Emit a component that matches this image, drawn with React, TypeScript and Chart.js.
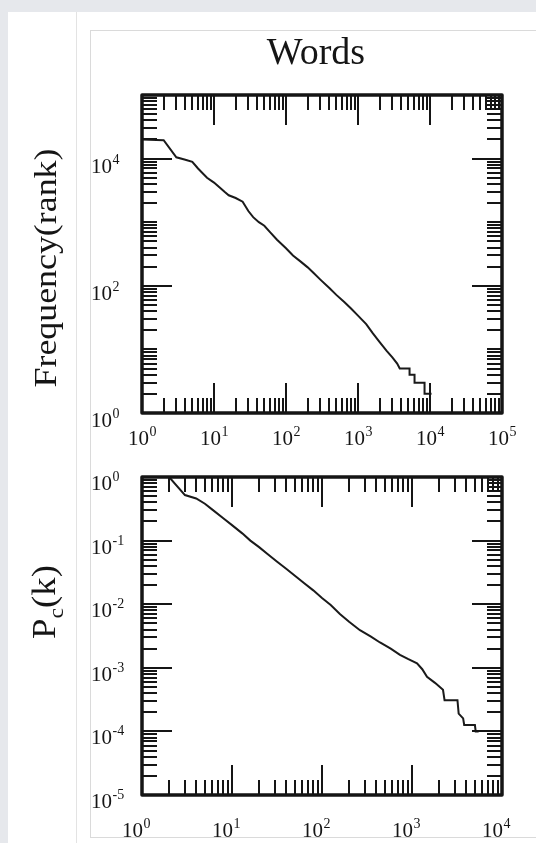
import React, { useEffect, useRef } from "react";
import { Chart, registerables } from "chart.js";

Chart.register(...registerables);

// Rank / frequency of words (Zipf plot)
const wordRanks = [
  1, 2, 3, 4, 5, 6, 8, 10, 12, 14, 16, 20, 25, 30, 35, 42, 50, 60, 75, 100, 125, 160, 200, 240, 300,
  400, 500, 650, 800, 1000, 1300, 1600, 2000, 2500, 3000, 3500, 3800, 5200, 5200, 6100, 6100, 8400,
  8400, 10500,
];
const wordFrequencies = [
  20000, 19500, 10500, 9600, 8900, 7000, 5000, 4200, 3500, 3000, 2650, 2400, 2100, 1500, 1200, 1000,
  880, 700, 530, 390, 300, 240, 195, 160, 125, 92, 72, 55, 44, 34, 25, 18, 13, 9.5, 7.5, 6, 5, 5, 4,
  4, 3, 3, 2, 2,
];

// Cumulative degree distribution of the word network
const wordDegrees = [
  2, 3, 4, 5, 6, 8, 10, 13, 16, 20, 25, 32, 40, 50, 63, 80, 100, 125, 158, 200, 264, 350, 441, 580,
  735, 900, 1137, 1300, 1468, 1800, 2210, 2300, 3200, 3300, 3700, 3800, 5000, 5100, 5500,
];
const cumulativeProbabilities = [
  1.0, 0.52, 0.46, 0.38, 0.31, 0.225, 0.175, 0.13, 0.1, 0.079, 0.061, 0.046, 0.036, 0.028, 0.0215,
  0.0165, 0.0125, 0.0097, 0.007, 0.0053, 0.0039, 0.0031, 0.0025, 0.002, 0.0016, 0.00138, 0.00118,
  0.00095, 0.00072, 0.00058, 0.00045, 0.00031, 0.00031, 0.00019, 0.00016, 0.000126, 0.000126,
  0.0001, 0.0001,
];

// Axis decades (exponents of ten)
const rankDecades = [0, 1, 2, 3, 4, 5];
const rankMajorDecades = [0, 1, 2, 3, 4, 5];
const rankLabelDecades = [0, 1, 2, 3, 4, 5];
const frequencyDecades = [0, 1, 2, 3, 4, 5];
const frequencyMajorDecades = [0, 2, 4];
const frequencyLabelDecades = [0, 2, 4];
const degreeDecades = [0, 1, 2, 3, 4];
const degreeMajorDecades = [0, 1, 2, 3, 4];
const degreeLabelDecades = [0, 1, 2, 3, 4];
const probabilityDecades = [-5, -4, -3, -2, -1, 0];
const probabilityMajorDecades = [-5, -4, -3, -2, -1, 0];
const probabilityLabelDecades = [-5, -4, -3, -2, -1, 0];

const SERIF = "'Liberation Serif', 'DejaVu Serif', serif";
const INK = "#151515";

type FrameOpts = {
  xDecades: number[];
  xMajor: number[];
  xLabels: number[];
  yDecades: number[];
  yMajor: number[];
  yLabels: number[];
  xLabelBaseline: number;
  xLabelShift: number;
  yLabelLeft: number;
  yLabelDrop: number;
  decorate?: (ctx: CanvasRenderingContext2D) => void;
};

function drawPower(ctx: CanvasRenderingContext2D, exp: number, x: number, baseline: number, centered: boolean) {
  const base = "10";
  const sup = exp < 0 ? "-" + String(-exp) : String(exp);
  ctx.font = `21px ${SERIF}`;
  const wb = ctx.measureText(base).width;
  ctx.font = `14px ${SERIF}`;
  const ws = ctx.measureText(sup).width;
  const left = centered ? x - (wb + ws) / 2 : x;
  ctx.textAlign = "left";
  ctx.textBaseline = "alphabetic";
  ctx.font = `21px ${SERIF}`;
  ctx.fillText(base, left, baseline);
  ctx.font = `14px ${SERIF}`;
  ctx.fillText(sup, left + wb + 0.5, baseline - 9);
}

const frameAxesPlugin = {
  id: "frameAxes",
  afterDatasetsDraw(chart: any, _args: any, opts: FrameOpts) {
    const { ctx, chartArea: a, scales } = chart;
    const xs = scales.x;
    const ys = scales.y;
    ctx.save();
    ctx.strokeStyle = INK;
    ctx.fillStyle = INK;

    // inward ticks on all four sides
    ctx.lineWidth = 2;
    ctx.beginPath();
    for (const d of opts.xDecades) {
      for (let m = 1; m <= 9; m++) {
        const v = m * Math.pow(10, d);
        if (v < xs.min * 0.999 || v > xs.max * 1.001) continue;
        const len = m === 1 && opts.xMajor.includes(d) ? 30 : 15;
        const p = Math.round(xs.getPixelForValue(v));
        ctx.moveTo(p, a.bottom);
        ctx.lineTo(p, a.bottom - len);
        ctx.moveTo(p, a.top);
        ctx.lineTo(p, a.top + len);
      }
    }
    for (const d of opts.yDecades) {
      for (let m = 1; m <= 9; m++) {
        const v = m * Math.pow(10, d);
        if (v < ys.min * 0.999 || v > ys.max * 1.001) continue;
        const len = m === 1 && opts.yMajor.includes(d) ? 30 : 15;
        const p = Math.round(ys.getPixelForValue(v));
        ctx.moveTo(a.left, p);
        ctx.lineTo(a.left + len, p);
        ctx.moveTo(a.right, p);
        ctx.lineTo(a.right - len, p);
      }
    }
    ctx.stroke();

    // frame
    ctx.lineWidth = 3.5;
    ctx.lineJoin = "round";
    ctx.strokeRect(a.left, a.top, a.right - a.left, a.bottom - a.top);

    // tick labels
    for (const d of opts.xLabels) {
      const p = xs.getPixelForValue(Math.pow(10, d));
      drawPower(ctx, d, p + opts.xLabelShift, opts.xLabelBaseline, true);
    }
    for (const d of opts.yLabels) {
      const p = ys.getPixelForValue(Math.pow(10, d));
      drawPower(ctx, d, opts.yLabelLeft, p + opts.yLabelDrop, false);
    }

    if (opts.decorate) opts.decorate(ctx);
    ctx.restore();
  },
};

function makeConfig(
  xs: number[],
  ys: number[],
  xRange: [number, number],
  yRange: [number, number],
  padding: { left: number; top: number; right: number; bottom: number },
  frame: FrameOpts
): any {
  return {
    type: "line",
    data: {
      datasets: [
        {
          data: xs.map((x, i) => ({ x, y: ys[i] })),
          borderColor: "#1a1a1a",
          borderWidth: 2,
          pointRadius: 0,
          fill: false,
          tension: 0,
        },
      ],
    },
    options: {
      animation: false,
      responsive: false,
      devicePixelRatio: 1,
      layout: { padding },
      scales: {
        x: { type: "logarithmic", display: false, min: xRange[0], max: xRange[1] },
        y: { type: "logarithmic", display: false, min: yRange[0], max: yRange[1] },
      },
      plugins: {
        legend: { display: false },
        tooltip: { enabled: false },
        frameAxes: frame,
      },
    },
    plugins: [frameAxesPlugin],
  };
}

export default function App() {
  const topRef = useRef<HTMLCanvasElement | null>(null);
  const bottomRef = useRef<HTMLCanvasElement | null>(null);

  useEffect(() => {
    if (!topRef.current || !bottomRef.current) return;

    const top = new Chart(
      topRef.current,
      makeConfig(
        wordRanks,
        wordFrequencies,
        [1, 1e5],
        [1, 1e5],
        { left: 142, top: 95, right: 34, bottom: 42 },
        {
          xDecades: rankDecades,
          xMajor: rankMajorDecades,
          xLabels: rankLabelDecades,
          yDecades: frequencyDecades,
          yMajor: frequencyMajorDecades,
          yLabels: frequencyLabelDecades,
          xLabelBaseline: 445,
          xLabelShift: 0,
          yLabelLeft: 91,
          yLabelDrop: 14,
          decorate(ctx) {
            ctx.textAlign = "center";
            ctx.textBaseline = "alphabetic";
            ctx.font = `38px ${SERIF}`;
            ctx.fillText("Words", 316, 64);

            ctx.save();
            ctx.translate(56, 268);
            ctx.rotate(-Math.PI / 2);
            ctx.scale(1.12, 1);
            ctx.font = `32px ${SERIF}`;
            ctx.textAlign = "center";
            ctx.fillText("Frequency(rank)", 0, 0);
            ctx.restore();
          },
        }
      )
    );

    const bottom = new Chart(
      bottomRef.current,
      makeConfig(
        wordDegrees,
        cumulativeProbabilities,
        [1, 1e4],
        [1e-5, 1],
        { left: 142, top: 22, right: 34, bottom: 48 },
        {
          xDecades: degreeDecades,
          xMajor: degreeMajorDecades,
          xLabels: degreeLabelDecades,
          yDecades: probabilityDecades,
          yMajor: probabilityMajorDecades,
          yLabels: probabilityLabelDecades,
          xLabelBaseline: 382,
          xLabelShift: -6,
          yLabelLeft: 91,
          yLabelDrop: 13,
          decorate(ctx) {
            ctx.save();
            ctx.translate(55, 147);
            ctx.rotate(-Math.PI / 2);
            ctx.scale(1.08, 1);
            ctx.textAlign = "left";
            ctx.textBaseline = "alphabetic";
            ctx.font = `34px ${SERIF}`;
            const wP = ctx.measureText("P").width;
            const wK = ctx.measureText("(k)").width;
            ctx.font = `22px ${SERIF}`;
            const wC = ctx.measureText("c").width;
            const start = -(wP + wC + wK) / 2;
            ctx.font = `34px ${SERIF}`;
            ctx.fillText("P", start, 0);
            ctx.font = `22px ${SERIF}`;
            ctx.fillText("c", start + wP, 8);
            ctx.font = `34px ${SERIF}`;
            ctx.fillText("(k)", start + wP + wC, 0);
            ctx.restore();
          },
        }
      )
    );

    return () => {
      top.destroy();
      bottom.destroy();
    };
  }, []);

  return (
    <div
      style={{
        position: "absolute",
        left: 0,
        top: 0,
        width: 536,
        height: 843,
        overflow: "hidden",
        background: "#e6e8ec",
      }}
    >
      <div style={{ position: "absolute", left: 8, top: 12, right: 0, bottom: 0, background: "#ffffff" }} />
      <div style={{ position: "absolute", left: 76, top: 12, width: 1, bottom: 0, background: "#e3e3e3" }} />
      <div
        style={{
          position: "absolute",
          left: 90,
          top: 30,
          width: 460,
          height: 806,
          border: "1px solid #dadada",
        }}
      />
      <canvas
        ref={topRef}
        width={536}
        height={455}
        style={{ position: "absolute", left: 0, top: 0, width: 536, height: 455 }}
      />
      <canvas
        ref={bottomRef}
        width={536}
        height={388}
        style={{ position: "absolute", left: 0, top: 455, width: 536, height: 388 }}
      />
    </div>
  );
}
